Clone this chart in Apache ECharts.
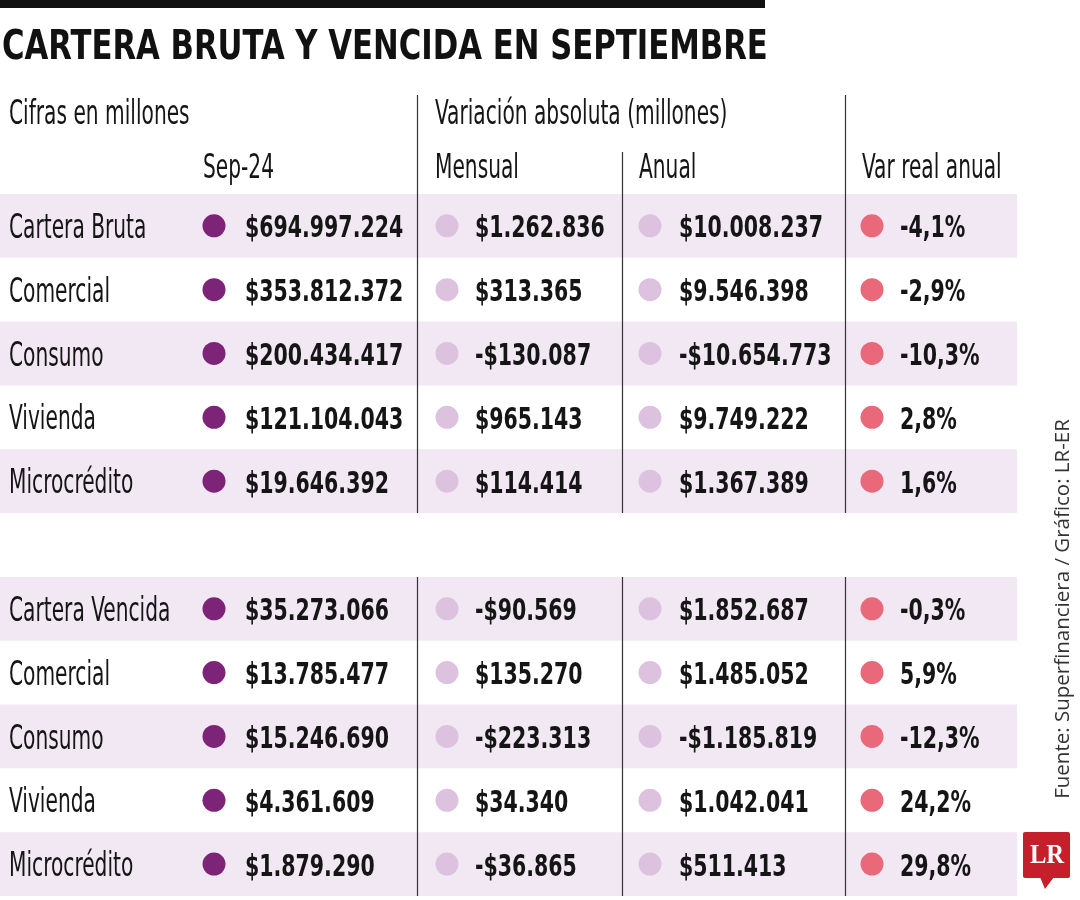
<!DOCTYPE html>
<html>
<head>
<meta charset="utf-8">
<script src="https://cdn.jsdelivr.net/npm/echarts@6/dist/echarts.min.js"></script>
<style>
  html, body { margin: 0; padding: 0; background: #ffffff; }
  #chart { width: 1080px; height: 900px; }
</style>
</head>
<body>
<div id="chart"></div>
<script>
// ---------------- DATA ----------------
const titleText = 'CARTERA BRUTA Y VENCIDA EN SEPTIEMBRE';
const sourceText = 'Fuente: Superfinanciera / Gráfico: LR-ER';
const headerTop = ['Cifras en millones', 'Variación absoluta (millones)'];
const headerCols = ['Sep-24', 'Mensual', 'Anual', 'Var real anual'];

const rowsBruta = ['Cartera Bruta', 'Comercial', 'Consumo', 'Vivienda', 'Microcrédito'];
const sepBruta = [694997224, 353812372, 200434417, 121104043, 19646392];
const mensualBruta = [1262836, 313365, -130087, 965143, 114414];
const anualBruta = [10008237, 9546398, -10654773, 9749222, 1367389];
const varBruta = [-4.1, -2.9, -10.3, 2.8, 1.6];

const rowsVencida = ['Cartera Vencida', 'Comercial', 'Consumo', 'Vivienda', 'Microcrédito'];
const sepVencida = [35273066, 13785477, 15246690, 4361609, 1879290];
const mensualVencida = [-90569, 135270, -223313, 34340, -36865];
const anualVencida = [1852687, 1485052, -1185819, 1042041, 511413];
const varVencida = [-0.3, 5.9, -12.3, 24.2, 29.8];

// ---------------- LAYOUT / STYLE ----------------
const FONT = "'Liberation Sans Narrow', 'Arial Narrow', 'DejaVu Sans Condensed', sans-serif";
const TEXT = '#151515';
const BAND = '#f2e8f4';
const C_SEP = '#7d2479';
const C_VAR = '#dcc2de';
const C_REAL = '#e9687a';
const TABLE_W = 1017;
const COL = { label: 9, sep: 214, men: 447, anu: 650, real: 872 };
const GAP = { sep: 31, men: 28, anu: 29, real: 28 };
const DOT = 23;
const REG = { size: 33, scale: 0.68 };
const BOLD = { size: 31, scale: 0.735 };
const TEXT_DY = 3.5;
const Y_TOP = -1.55, Y_SUB = -0.657, Y_H1 = -1.28, Y_H2 = -0.44;
const DIVIDERS = [[417, Y_TOP], [622, Y_SUB], [845, Y_TOP]];

function fmtMoney(v) {
  const s = Math.abs(v).toString().replace(/\B(?=(\d{3})+(?!\d))/g, '.');
  return (v < 0 ? '-' : '') + '$' + s;
}
function fmtPct(v) { return v.toFixed(1).replace('.', ',') + '%'; }

const n1 = rowsBruta.length;
const start2 = n1 + 1;
const n2 = rowsVencida.length;
const totalRows = start2 + n2;

// shaded rows
const bandRows = [];
for (let i = 0; i < n1; i += 2) bandRows.push(i);
for (let i = 0; i < n2; i += 2) bandRows.push(start2 + i);

// divider segments
const segs = [];
DIVIDERS.forEach(d => {
  segs.push([d[0], d[1], n1]);
  segs.push([d[0], start2, totalRows]);
});

// texts
const texts = [];
texts.push({ x: COL.label, y: Y_H1, t: headerTop[0], bold: false });
texts.push({ x: COL.men - 12, y: Y_H1, t: headerTop[1], bold: false });
texts.push({ x: COL.sep - 11, y: Y_H2, t: headerCols[0], bold: false });
texts.push({ x: COL.men - 12, y: Y_H2, t: headerCols[1], bold: false });
texts.push({ x: COL.anu - 11, y: Y_H2, t: headerCols[2], bold: false });
texts.push({ x: COL.real - 10, y: Y_H2, t: headerCols[3], bold: false });
rowsBruta.forEach((r, i) => texts.push({ x: COL.label, y: i + 0.5, t: r, bold: false }));
rowsVencida.forEach((r, i) => texts.push({ x: COL.label, y: start2 + i + 0.5, t: r, bold: false }));

const dotSeriesList = [];
function addColumn(colKey, color, arr1, arr2, fmt) {
  const data = [];
  arr1.forEach((v, i) => {
    data.push([COL[colKey], i + 0.5]);
    texts.push({ x: COL[colKey] + GAP[colKey], y: i + 0.5, t: fmt(v), bold: true });
  });
  arr2.forEach((v, i) => {
    data.push([COL[colKey], start2 + i + 0.5]);
    texts.push({ x: COL[colKey] + GAP[colKey], y: start2 + i + 0.5, t: fmt(v), bold: true });
  });
  dotSeriesList.push({
    type: 'scatter', symbol: 'circle', symbolSize: DOT, data: data,
    itemStyle: { color: color, opacity: 1 },
    emphasis: { disabled: true }, silent: true, z: 5
  });
}
addColumn('sep', C_SEP, sepBruta, sepVencida, fmtMoney);
addColumn('men', C_VAR, mensualBruta, mensualVencida, fmtMoney);
addColumn('anu', C_VAR, anualBruta, anualVencida, fmtMoney);
addColumn('real', C_REAL, varBruta, varVencida, fmtPct);

const chart = echarts.init(document.getElementById('chart'), null, { renderer: 'canvas' });
chart.setOption({
  animation: false,
  backgroundColor: '#ffffff',
  grid: { left: 0, top: 95, width: TABLE_W, bottom: 4, containLabel: false },
  xAxis: { type: 'value', min: 0, max: TABLE_W, show: false },
  yAxis: { type: 'value', min: Y_TOP, max: totalRows, inverse: true, show: false },
  graphic: [
    { type: 'rect', shape: { x: 0, y: 0, width: 765, height: 8 }, style: { fill: '#111' } },
    { type: 'text', x: 2, y: 48, scaleX: 0.833,
      style: { x: 0, y: 0, text: titleText, font: "bold 41px " + FONT, fill: '#111', verticalAlign: 'middle', align: 'left' } },
    { type: 'text', x: 1063, y: 609, rotation: Math.PI / 2,
      style: { text: sourceText, font: "20.5px 'Open Sans', 'Noto Sans', sans-serif", fill: '#333', align: 'center', verticalAlign: 'middle' } },
    { type: 'group', children: [
      { type: 'rect', shape: { x: 1023, y: 832, width: 47, height: 46, r: 2 }, style: { fill: '#c41f2b' } },
      { type: 'polygon', shape: { points: [[1040, 877], [1054, 877], [1045, 889]] }, style: { fill: '#c41f2b' } },
      { type: 'text', x: 1047, y: 856, scaleX: 0.88,
        style: { x: 0, y: 0, text: 'LR', font: "bold 28px 'Liberation Serif', 'DejaVu Serif', serif", fill: '#fff', align: 'center', verticalAlign: 'middle' } }
    ] }
  ],
  series: [
    {
      type: 'custom', silent: true, z: 1,
      data: bandRows.map(r => [0, r]),
      renderItem: (params, api) => {
        const r = api.value(1);
        const p0 = api.coord([0, r]);
        const p1 = api.coord([TABLE_W, r + 1]);
        return { type: 'rect', shape: { x: p0[0], y: p0[1], width: p1[0] - p0[0], height: p1[1] - p0[1] }, style: { fill: BAND } };
      }
    },
    {
      type: 'custom', silent: true, z: 2,
      data: segs,
      renderItem: (params, api) => {
        const a = api.coord([api.value(0), api.value(1)]);
        const b = api.coord([api.value(0), api.value(2)]);
        return { type: 'line', shape: { x1: Math.round(a[0]) + 0.5, y1: a[1], x2: Math.round(b[0]) + 0.5, y2: b[1] }, style: { stroke: '#333', lineWidth: 1.2 } };
      }
    },
    {
      type: 'custom', silent: true, z: 6,
      data: texts.map(t => [t.x, t.y]),
      renderItem: (params, api) => {
        const t = texts[params.dataIndex];
        const p = api.coord([api.value(0), api.value(1)]);
        const f = t.bold ? BOLD : REG;
        return { type: 'text', x: p[0], y: p[1] + TEXT_DY, scaleX: f.scale,
          style: { x: 0, y: 0, text: t.t, font: (t.bold ? 'bold ' : '') + f.size + 'px ' + FONT, fill: TEXT, align: 'left', verticalAlign: 'middle' } };
      }
    }
  ].concat(dotSeriesList)
});
</script>
</body>
</html>
